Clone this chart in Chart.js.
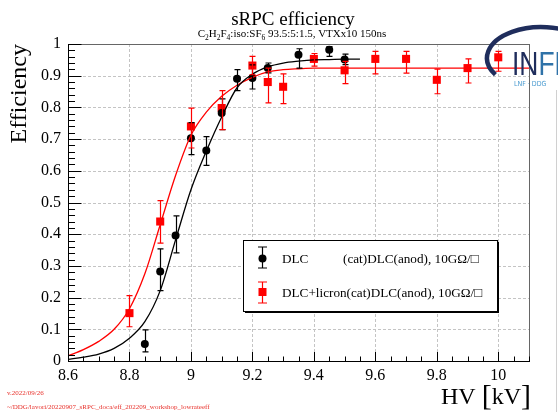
<!DOCTYPE html>
<html>
<head>
<meta charset="utf-8">
<script src="https://cdn.jsdelivr.net/npm/chart.js@4.4.0/dist/chart.umd.min.js"></script>
<style>
  body { margin: 0; background: #fff; }
  #wrap { width: 558px; height: 412px; }
</style>
</head>
<body>
<div id="wrap"><canvas id="eff_chart" width="558" height="412"></canvas></div>
<script>
// DLC (black circles)
var dlcHV = [8.85, 8.9, 8.95, 9.0, 9.05, 9.1, 9.15, 9.2, 9.25, 9.35, 9.45, 9.5];
var dlcEff = [0.054, 0.282, 0.396, 0.703, 0.664, 0.782, 0.890, 0.893, 0.924, 0.966, 0.982, 0.951];
var dlcHi = [0.098, 0.354, 0.458, 0.752, 0.708, 0.827, 0.919, 0.934, 0.940, 0.985, 0.992, 0.968];
var dlcLo = [0.029, 0.222, 0.341, 0.651, 0.617, 0.730, 0.853, 0.858, 0.909, 0.924, 0.961, 0.935];

// DLC+licron (red squares)
var licHV = [8.8, 8.9, 9.0, 9.1, 9.2, 9.25, 9.3, 9.4, 9.5, 9.6, 9.7, 9.8, 9.9, 10.0];
var licEff = [0.151, 0.440, 0.740, 0.798, 0.932, 0.880, 0.865, 0.953, 0.917, 0.953, 0.953, 0.887, 0.924, 0.958];
var licHi = [0.206, 0.506, 0.798, 0.853, 0.961, 0.924, 0.906, 0.970, 0.945, 0.977, 0.977, 0.921, 0.953, 0.977];
var licLo = [0.108, 0.372, 0.672, 0.730, 0.903, 0.814, 0.812, 0.930, 0.875, 0.906, 0.908, 0.843, 0.877, 0.914];

// fit curves
var dlcFitHV = [8.6, 8.65, 8.7, 8.75, 8.8, 8.85, 8.9, 8.95, 9.0, 9.05, 9.1, 9.15, 9.2, 9.25, 9.3, 9.35, 9.4, 9.45, 9.5, 9.55];
var dlcFitEff = [0.005, 0.012, 0.022, 0.040, 0.072, 0.124, 0.222, 0.382, 0.540, 0.662, 0.770, 0.862, 0.905, 0.928, 0.940, 0.946, 0.950, 0.951, 0.952, 0.952];
var licFitHV = [8.6, 8.65, 8.7, 8.75, 8.8, 8.85, 8.9, 8.95, 9.0, 9.05, 9.1, 9.15, 9.2, 9.25, 9.3, 9.35, 9.4, 9.6, 9.8, 10.0, 10.1];
var licFitEff = [0.016, 0.036, 0.062, 0.100, 0.165, 0.275, 0.430, 0.585, 0.712, 0.785, 0.835, 0.870, 0.895, 0.912, 0.919, 0.922, 0.924, 0.924, 0.924, 0.924, 0.924];

var xTickValues = [8.6, 8.8, 9.0, 9.2, 9.4, 9.6, 9.8, 10.0];
var yTickValues = [0, 0.1, 0.2, 0.3, 0.4, 0.5, 0.6, 0.7, 0.8, 0.9, 1.0];

var serif = '"Liberation Serif", "DejaVu Serif", serif';

function pts(xs, ys) {
    return xs.map(function (x, i) { return { x: x, y: ys[i] }; });
}

// grid, inner ticks, frame
var framePlugin = {
    id: 'frame',
    beforeDatasetsDraw: function (chart) {
        var c = chart.ctx, a = chart.chartArea, xs = chart.scales.x, ys = chart.scales.y;
        c.save();
        c.strokeStyle = '#c4c4c4';
        c.lineWidth = 1;
        c.setLineDash([3, 2]);
        xTickValues.forEach(function (v) {
            var px = Math.round(xs.getPixelForValue(v)) + 0.5;
            c.beginPath(); c.moveTo(px, a.top); c.lineTo(px, a.bottom); c.stroke();
        });
        yTickValues.forEach(function (v) {
            var py = Math.round(ys.getPixelForValue(v)) + 0.5;
            c.beginPath(); c.moveTo(a.left, py); c.lineTo(a.right, py); c.stroke();
        });
        c.restore();
    },
    afterDatasetsDraw: function (chart) {
        var c = chart.ctx, a = chart.chartArea, xs = chart.scales.x, ys = chart.scales.y;
        c.save();
        c.lineWidth = 1;
        c.strokeStyle = '#666';
        c.strokeRect(Math.round(a.left) + 0.5, Math.round(a.top) + 0.5, Math.round(a.right - a.left), Math.round(a.bottom - a.top));
        c.strokeStyle = '#000';
        var b = Math.round(a.bottom) + 0.5, l = Math.round(a.left) + 0.5;
        c.beginPath(); c.moveTo(a.left, b); c.lineTo(a.right + 1, b); c.stroke();
        c.beginPath(); c.moveTo(l, a.top); c.lineTo(l, a.bottom); c.stroke();
        // x ticks every 0.05
        for (var i = 0; i <= 30; i++) {
            var v = 8.6 + i * 0.05;
            var px = Math.round(xs.getPixelForValue(v)) + 0.5;
            var len = (i % 4 === 0) ? 9.5 : 5;
            c.beginPath(); c.moveTo(px, b); c.lineTo(px, b - len); c.stroke();
        }
        // y ticks every 0.02
        for (var j = 0; j <= 50; j++) {
            var py = Math.round(ys.getPixelForValue(j * 0.02)) + 0.5;
            var ln = (j % 5 === 0) ? 13 : 6.5;
            c.beginPath(); c.moveTo(l, py); c.lineTo(l + ln, py); c.stroke();
        }
        c.restore();
    }
};

// vertical error bars with small caps
var errorBarPlugin = {
    id: 'errbars',
    afterDatasetsDraw: function (chart) {
        var c = chart.ctx, ys = chart.scales.y;
        chart.data.datasets.forEach(function (ds, i) {
            if (!ds.errLo) return;
            var meta = chart.getDatasetMeta(i);
            c.save();
            c.strokeStyle = ds.borderColor;
            c.lineWidth = 1.2;
            meta.data.forEach(function (p, k) {
                var x = Math.round(p.x) + 0.5;
                var yl = ys.getPixelForValue(ds.errLo[k]);
                var yh = ys.getPixelForValue(ds.errHi[k]);
                c.beginPath();
                c.moveTo(x, yl); c.lineTo(x, yh);
                c.moveTo(x - 3, yl); c.lineTo(x + 3, yl);
                c.moveTo(x - 3, yh); c.lineTo(x + 3, yh);
                c.stroke();
            });
            c.restore();
        });
    }
};

function drawRuns(c, runs, x, y, align) {
    var w = 0;
    runs.forEach(function (r) { c.font = r.f; w += c.measureText(r.t).width; });
    var cx = align === 'right' ? x - w : (align === 'center' ? x - w / 2 : x);
    runs.forEach(function (r) {
        c.font = r.f;
        c.fillText(r.t, cx, y + (r.dy || 0));
        cx += c.measureText(r.t).width;
    });
}

// titles, legend, logo, footer
var decoPlugin = {
    id: 'deco',
    afterDraw: function (chart) {
        var c = chart.ctx;
        c.save();
        c.fillStyle = '#000';
        c.textBaseline = 'alphabetic';
        c.textAlign = 'left';

        c.font = '19px ' + serif;
        c.textAlign = 'center';
        c.fillText('sRPC efficiency', 293, 25);
        c.textAlign = 'left';

        var f = '11px ' + serif, fs = '7.5px ' + serif;
        drawRuns(c, [
            { t: 'C', f: f }, { t: '2', f: fs, dy: 2.5 }, { t: 'H', f: f }, { t: '2', f: fs, dy: 2.5 },
            { t: 'F', f: f }, { t: '4', f: fs, dy: 2.5 }, { t: ':iso:SF', f: f }, { t: '6', f: fs, dy: 2.5 },
            { t: ' 93.5:5:1.5, VTXx10 150ns', f: f }
        ], 292, 37, 'center');

        // axis titles
        c.save();
        c.translate(26, 44);
        c.rotate(-Math.PI / 2);
        c.font = '24px ' + serif;
        c.textAlign = 'right';
        c.fillText('Efficiency', 0, 0);
        c.restore();

        drawRuns(c, [
            { t: 'HV ', f: '24px ' + serif }, { t: '[', f: '30px ' + serif, dy: 1 },
            { t: 'kV', f: '24px ' + serif }, { t: ']', f: '30px ' + serif, dy: 1 }
        ], 531, 404, 'right');

        // legend box with shadow
        c.fillStyle = '#000';
        c.fillRect(245, 242, 254, 71);
        c.fillStyle = '#fff';
        c.fillRect(243, 240, 254, 71);
        c.strokeStyle = '#000';
        c.lineWidth = 1;
        c.strokeRect(243.5, 240.5, 254, 71);

        c.lineWidth = 1.2;
        c.strokeStyle = '#000';
        c.beginPath();
        c.moveTo(262.5, 247); c.lineTo(262.5, 268);
        c.moveTo(258, 247); c.lineTo(267, 247);
        c.moveTo(258, 268); c.lineTo(267, 268);
        c.stroke();
        c.fillStyle = '#000';
        c.beginPath(); c.arc(262.5, 258.5, 4, 0, Math.PI * 2); c.fill();

        c.strokeStyle = '#f00';
        c.beginPath();
        c.moveTo(262.5, 282); c.lineTo(262.5, 303);
        c.moveTo(258, 282); c.lineTo(267, 282);
        c.moveTo(258, 303); c.lineTo(267, 303);
        c.stroke();
        c.fillStyle = '#f00';
        c.fillRect(258.5, 288, 8, 8);

        c.fillStyle = '#000';
        c.font = '13.2px ' + serif;
        c.fillText('DLC', 282, 263);
        c.fillText('(cat)DLC(anod), 10G\u03a9/\u25a1', 343, 263);
        c.fillText('DLC+licron(cat)DLC(anod), 10G\u03a9/\u25a1', 282, 297);

        // footer
        c.fillStyle = '#e8322c';
        c.font = '7px ' + serif;
        c.fillText('v.2022/09/26', 7, 395);
        c.fillText('~/DDG/lavori/20220907_sRPC_doca/eff_202209_workshop_lowrateeff', 7, 409);

        // logo
        c.strokeStyle = '#1f2d5c';
        c.lineWidth = 4.5;
        c.beginPath();
        c.ellipse(541, 58, 54, 31, 0, Math.PI * 0.82, Math.PI * 1.75);
        c.stroke();
        c.save();
        c.translate(512, 75);
        c.scale(0.8, 1);
        c.font = '33px "Liberation Sans", "DejaVu Sans", sans-serif';
        c.fillStyle = '#1f2d5c';
        c.fillText('IN', 0, 0);
        c.fillStyle = '#2f72a8';
        c.fillText('FN', c.measureText('IN').width, 0);
        c.restore();
        c.font = '7px "DejaVu Sans Condensed", "DejaVu Sans", sans-serif';
        c.fillStyle = '#4a9bd0';
        c.fillText('LNF \u00b7 DDG', 514, 86);

        c.strokeStyle = '#d0d0d0';
        c.lineWidth = 1;
        c.beginPath(); c.moveTo(556.5, 90); c.lineTo(556.5, 412); c.stroke();
        c.restore();
    }
};

var eff_chart = document.getElementById('eff_chart');
var My_eff_chart = new Chart(eff_chart, {
    type: 'scatter',
    data: {
        datasets: [{
            label: 'DLC fit',
            data: pts(dlcFitHV, dlcFitEff),
            showLine: true,
            borderColor: '#000',
            borderWidth: 1.3,
            pointRadius: 0,
            cubicInterpolationMode: 'monotone'
        }, {
            label: 'DLC+licron fit',
            data: pts(licFitHV, licFitEff),
            showLine: true,
            borderColor: '#f00',
            borderWidth: 1.3,
            pointRadius: 0,
            cubicInterpolationMode: 'monotone'
        }, {
            label: 'DLC',
            data: pts(dlcHV, dlcEff),
            errLo: dlcLo,
            errHi: dlcHi,
            pointStyle: 'circle',
            pointRadius: 4,
            backgroundColor: '#000',
            borderColor: '#000',
            borderWidth: 0
        }, {
            label: 'DLC+licron',
            data: pts(licHV, licEff),
            errLo: licLo,
            errHi: licHi,
            pointStyle: 'rect',
            pointRadius: 5.7,
            backgroundColor: '#f00',
            borderColor: '#f00',
            borderWidth: 0
        }]
    },
    options: {
        responsive: false,
        animation: false,
        layout: { padding: { top: 44, right: 29, left: 0, bottom: 0 } },
        plugins: {
            legend: { display: false },
            tooltip: { enabled: false }
        },
        scales: {
            x: {
                type: 'linear',
                min: 8.6,
                max: 10.1,
                afterBuildTicks: function (s) { s.ticks = xTickValues.map(function (v) { return { value: v }; }); },
                afterFit: function (s) { s.height = 51; },
                grid: { display: false, drawTicks: false },
                border: { display: false },
                ticks: {
                    padding: 5,
                    color: '#000',
                    maxRotation: 0,
                    font: { family: serif, size: 16 },
                    callback: function (v) { return String(Math.round(v * 10) / 10); }
                }
            },
            y: {
                type: 'linear',
                min: 0,
                max: 1,
                afterBuildTicks: function (s) { s.ticks = yTickValues.map(function (v) { return { value: v }; }); },
                afterFit: function (s) { s.width = 68; },
                grid: { display: false, drawTicks: false },
                border: { display: false },
                ticks: {
                    padding: 7,
                    color: '#000',
                    font: { family: serif, size: 16 },
                    callback: function (v) { return String(Math.round(v * 10) / 10); }
                }
            }
        }
    },
    plugins: [framePlugin, errorBarPlugin, decoPlugin]
});
</script>
</body>
</html>
